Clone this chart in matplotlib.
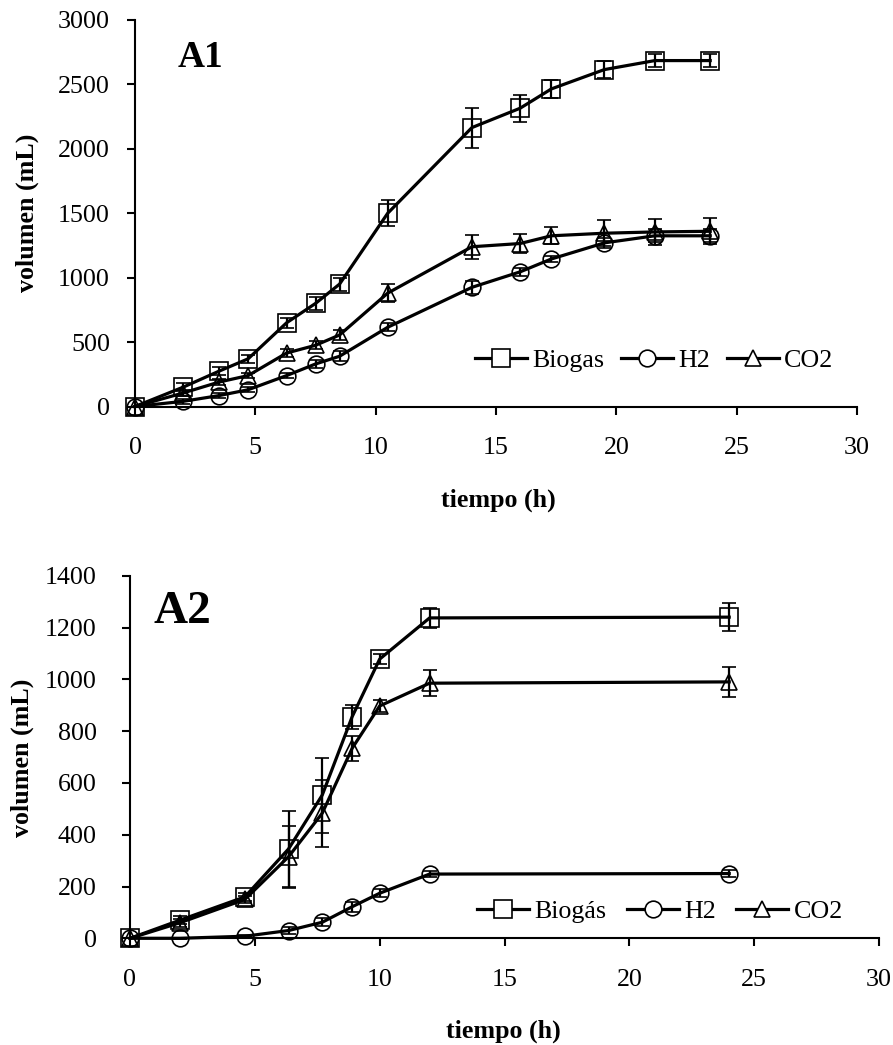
import matplotlib
matplotlib.use("Agg")
import matplotlib.pyplot as plt
from matplotlib.lines import Line2D

plt.rcParams['font.family'] = ['Liberation Serif', 'DejaVu Serif']

# Panel A1: cumulative gas volume (mL) vs time (h)
t1 = [0, 2.0, 3.5, 4.7, 6.3, 7.5, 8.5, 10.5, 14.0, 16.0, 17.3, 19.5, 21.6, 23.9]
biogas1 = [0, 150, 275, 370, 650, 800, 950, 1500, 2165, 2315, 2465, 2615, 2685, 2685]
biogas1_err = [0, 30, 30, 30, 40, 50, 50, 100, 155, 105, 70, 65, 50, 50]
h2_1 = [0, 40, 85, 130, 240, 330, 390, 615, 925, 1045, 1145, 1270, 1325, 1325]
h2_1_err = [0, 20, 20, 20, 20, 30, 40, 30, 50, 30, 25, 40, 50, 50]
co2_1 = [0, 105, 190, 240, 415, 475, 555, 880, 1240, 1265, 1325, 1345, 1355, 1360]
co2_1_err = [0, 20, 20, 20, 30, 30, 40, 70, 95, 75, 65, 100, 100, 100]

# Panel A2
t2 = [0, 2.0, 4.6, 6.35, 7.7, 8.9, 10.0, 12.0, 24.0]
biogas2 = [0, 70, 160, 345, 553, 856, 1078, 1237, 1240]
biogas2_err = [0, 15, 15, 145, 145, 46, 20, 38, 53]
h2_2 = [0, 0, 8, 30, 62, 122, 174, 248, 250]
h2_2_err = [0, 3, 3, 15, 15, 20, 15, 12, 12]
co2_2 = [0, 60, 150, 315, 483, 734, 897, 985, 990]
co2_2_err = [0, 15, 15, 120, 130, 48, 22, 50, 58]

W, H = 893, 1045
fig = plt.figure(figsize=(W / 100, H / 100), dpi=100)

FS = 18.7
LW = 2.3
MEW = 1.2
markers = ['s', 'o', '^']
msizes = [13, 12, 12]


def px_box(left, right, top, bottom):
    return [left / W, 1 - bottom / H, (right - left) / W, (bottom - top) / H]


def draw_panel(ax, t, series, errs, ylim, ystep, ypad):
    for y, e, m, ms in zip(series, errs, markers, msizes):
        ax.errorbar(t, y, yerr=e, color='black', lw=LW, marker=m, ms=ms,
                    mfc='none', mec='black', mew=MEW, elinewidth=1.6,
                    capsize=5, capthick=1.6, clip_on=False)
    ax.set_xlim(0, 30)
    ax.set_ylim(*ylim)
    ax.set_xticks(range(0, 31, 5))
    ax.set_yticks(range(ylim[0], ylim[1] + 1, ystep))
    for s in ['top', 'right']:
        ax.spines[s].set_visible(False)
    for s in ['left', 'bottom']:
        ax.spines[s].set_linewidth(1.5)
    ax.tick_params(axis='both', direction='out', length=6, width=1.5,
                   labelsize=FS)
    ax.tick_params(axis='x', pad=16)
    ax.tick_params(axis='y', pad=ypad)


def add_legend(labels, x, y, colspace):
    handles = [Line2D([], [], color='black', lw=LW, marker=m, ms=ms,
                      mfc='white', mec='black', mew=MEW)
               for m, ms in zip(markers, msizes)]
    fig.legend(handles, labels, loc='center left',
               bbox_to_anchor=(x / W, 1 - y / H), ncol=3, frameon=False,
               borderpad=0, borderaxespad=0, handlelength=2.0,
               handletextpad=0.2, columnspacing=colspace, numpoints=1,
               prop={'size': FS})


ax1 = fig.add_axes(px_box(135, 857, 20, 406.5))
draw_panel(ax1, t1, [biogas1, h2_1, co2_1],
           [biogas1_err, h2_1_err, co2_1_err], (0, 3000), 500, 12)
fig.text(178 / W, 1 - 66.7 / H, 'A1', fontsize=27, fontweight='bold',
         va='baseline', ha='left')
add_legend(['Biogas', 'H2', 'CO2'], 475, 360, 0.65)

ax2 = fig.add_axes(px_box(130, 879, 575.7, 938.3))
draw_panel(ax2, t2, [biogas2, h2_2, co2_2],
           [biogas2_err, h2_2_err, co2_2_err], (0, 1400), 200, 18)
fig.text(153 / W, 1 - 623 / H, 'A2', fontsize=34, fontweight='bold',
         va='baseline', ha='left')
add_legend(['Biogás', 'H2', 'CO2'], 476.7, 911.7, 0.8)

# Axis titles placed in figure pixels
for ylab_x, ylab_y in [(27, 212.5), (22, 757.5)]:
    fig.text(ylab_x / W, 1 - ylab_y / H, 'volumen (mL)', rotation=90,
             fontsize=FS, fontweight='bold', ha='center', va='center')
for xlab_x, xlab_y in [(498, 500), (503, 1031.7)]:
    fig.text(xlab_x / W, 1 - xlab_y / H, 'tiempo (h)', fontsize=FS,
             fontweight='bold', ha='center', va='center')

fig.savefig('out.png', dpi=100)
